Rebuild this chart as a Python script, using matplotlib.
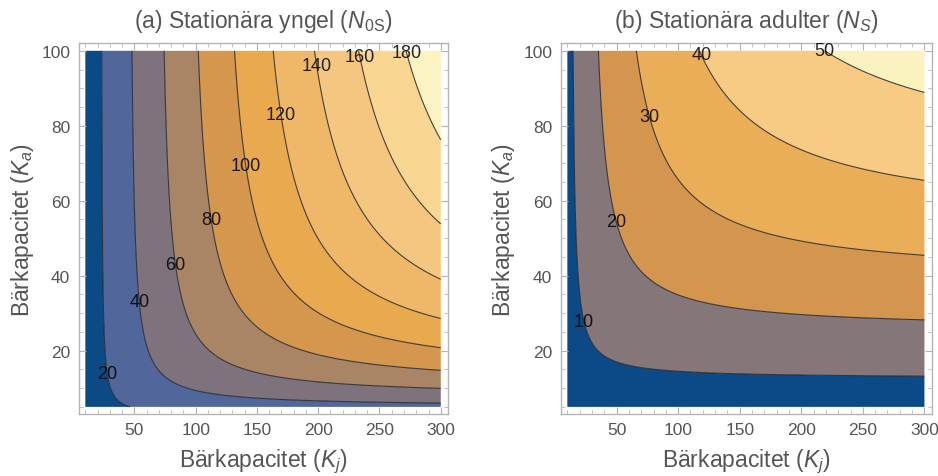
import numpy as np
import matplotlib
matplotlib.use("Agg")
import matplotlib.pyplot as plt
from matplotlib.ticker import MultipleLocator

plt.rcParams["font.family"] = ["Liberation Sans", "DejaVu Sans"]
plt.rcParams["mathtext.fontset"] = "custom"
plt.rcParams["mathtext.rm"] = "Liberation Sans"
plt.rcParams["mathtext.it"] = "Liberation Sans:italic"

# Parameter ranges (carrying capacities)
kj_range = [10, 300]
ka_range = [5, 100]

# Contour levels
levels_juv = [20, 40, 60, 80, 100, 120, 140, 160, 180]
levels_adult = [10, 20, 30, 40, 50]

# Stationary population sizes: 1/N = a/Kj + b/Ka + c
coef_juv = [1.137, 0.127, 0.0001]
coef_adult = [1.26, 1.24, 0.00185]

# Band colours, lowest to highest
colors_juv = ["#0c4a86", "#51679b", "#7e737d", "#aa8565", "#d5964d",
              "#e9a94f", "#efb868", "#f4c67f", "#f9d692", "#fbf3c1"]
colors_adult = ["#0b4a87", "#857679", "#d4964f", "#ebae58", "#f7cb84", "#fbf3bf"]

titles = [r"(a) Stationära yngel ($N_{\mathrm{0S}}$)",
          r"(b) Stationära adulter ($N_S$)"]

# Contour-label anchor points (Kj, Ka)
label_pos_juv = [(28, 14), (54, 33), (85, 43), (114, 55), (142, 69.5),
                 (170, 83), (199, 96), (233, 98.5), (271, 99.4)]
label_pos_adult = [(27, 28), (55, 55), (81, 83), (122, 99.4), (216, 99.4)]


def stationary(kj, ka, coef):
    a, b, c = coef
    return 1.0 / (a / kj + b / ka + c)


kj = np.linspace(kj_range[0], kj_range[1], 700)
ka = np.linspace(ka_range[0], ka_range[1], 500)
KJ, KA = np.meshgrid(kj, ka)

W, H = 938, 477
fig = plt.figure(figsize=(W / 100, H / 100), dpi=100)

frame_px = [(78.7, 448.0), (560.7, 931.7)]
top_px, bot_px = 44.3, 415.0

panels = [
    (coef_juv, levels_juv, colors_juv, label_pos_juv, titles[0]),
    (coef_adult, levels_adult, colors_adult, label_pos_adult, titles[1]),
]

frame_col = "#b4b4b4"
text_col = "#555555"

for (x0, x1), (coef, levels, cols, lpos, title) in zip(frame_px, panels):
    ax = fig.add_axes([x0 / W, 1 - bot_px / H, (x1 - x0) / W, (bot_px - top_px) / H])
    Z = stationary(KJ, KA, coef)
    bounds = [0] + levels + [1e6]
    ax.contourf(KJ, KA, Z, levels=bounds, colors=cols, antialiased=True)
    cs = ax.contour(KJ, KA, Z, levels=levels, colors="#262626",
                    linewidths=0.8, alpha=0.85)
    texts = ax.clabel(cs, levels, inline=False, fontsize=13, colors="black",
                      manual=lpos, fmt="%d")
    for t in texts:
        t.set_rotation(0)

    ax.set_xlim(4.6, 305.9)
    ax.set_ylim(3.1, 102.0)
    for sp in ax.spines.values():
        sp.set_color(frame_col)
        sp.set_linewidth(1.0)
    ax.set_xticks([50, 100, 150, 200, 250, 300])
    ax.set_yticks([20, 40, 60, 80, 100])
    ax.xaxis.set_minor_locator(MultipleLocator(10))
    ax.yaxis.set_minor_locator(MultipleLocator(5))
    ax.tick_params(which="both", direction="in", top=True, right=True,
                   color=frame_col, labelcolor=text_col, labelsize=12.5)
    ax.tick_params(which="major", length=5, width=0.8, pad=6)
    ax.tick_params(which="minor", length=3, width=0.6)

    ax.set_title(title, fontsize=16.5, color=text_col, pad=12)
    ax.text(0.5, -0.126, r"Bärkapacitet ($K_j$)", transform=ax.transAxes,
            ha="center", va="center", fontsize=16.5, color=text_col)
    ax.text(-0.153, 0.5, r"Bärkapacitet ($K_a$)", transform=ax.transAxes,
            ha="center", va="center", rotation=90, fontsize=16.5, color=text_col)

fig.savefig("out.png", dpi=100)
